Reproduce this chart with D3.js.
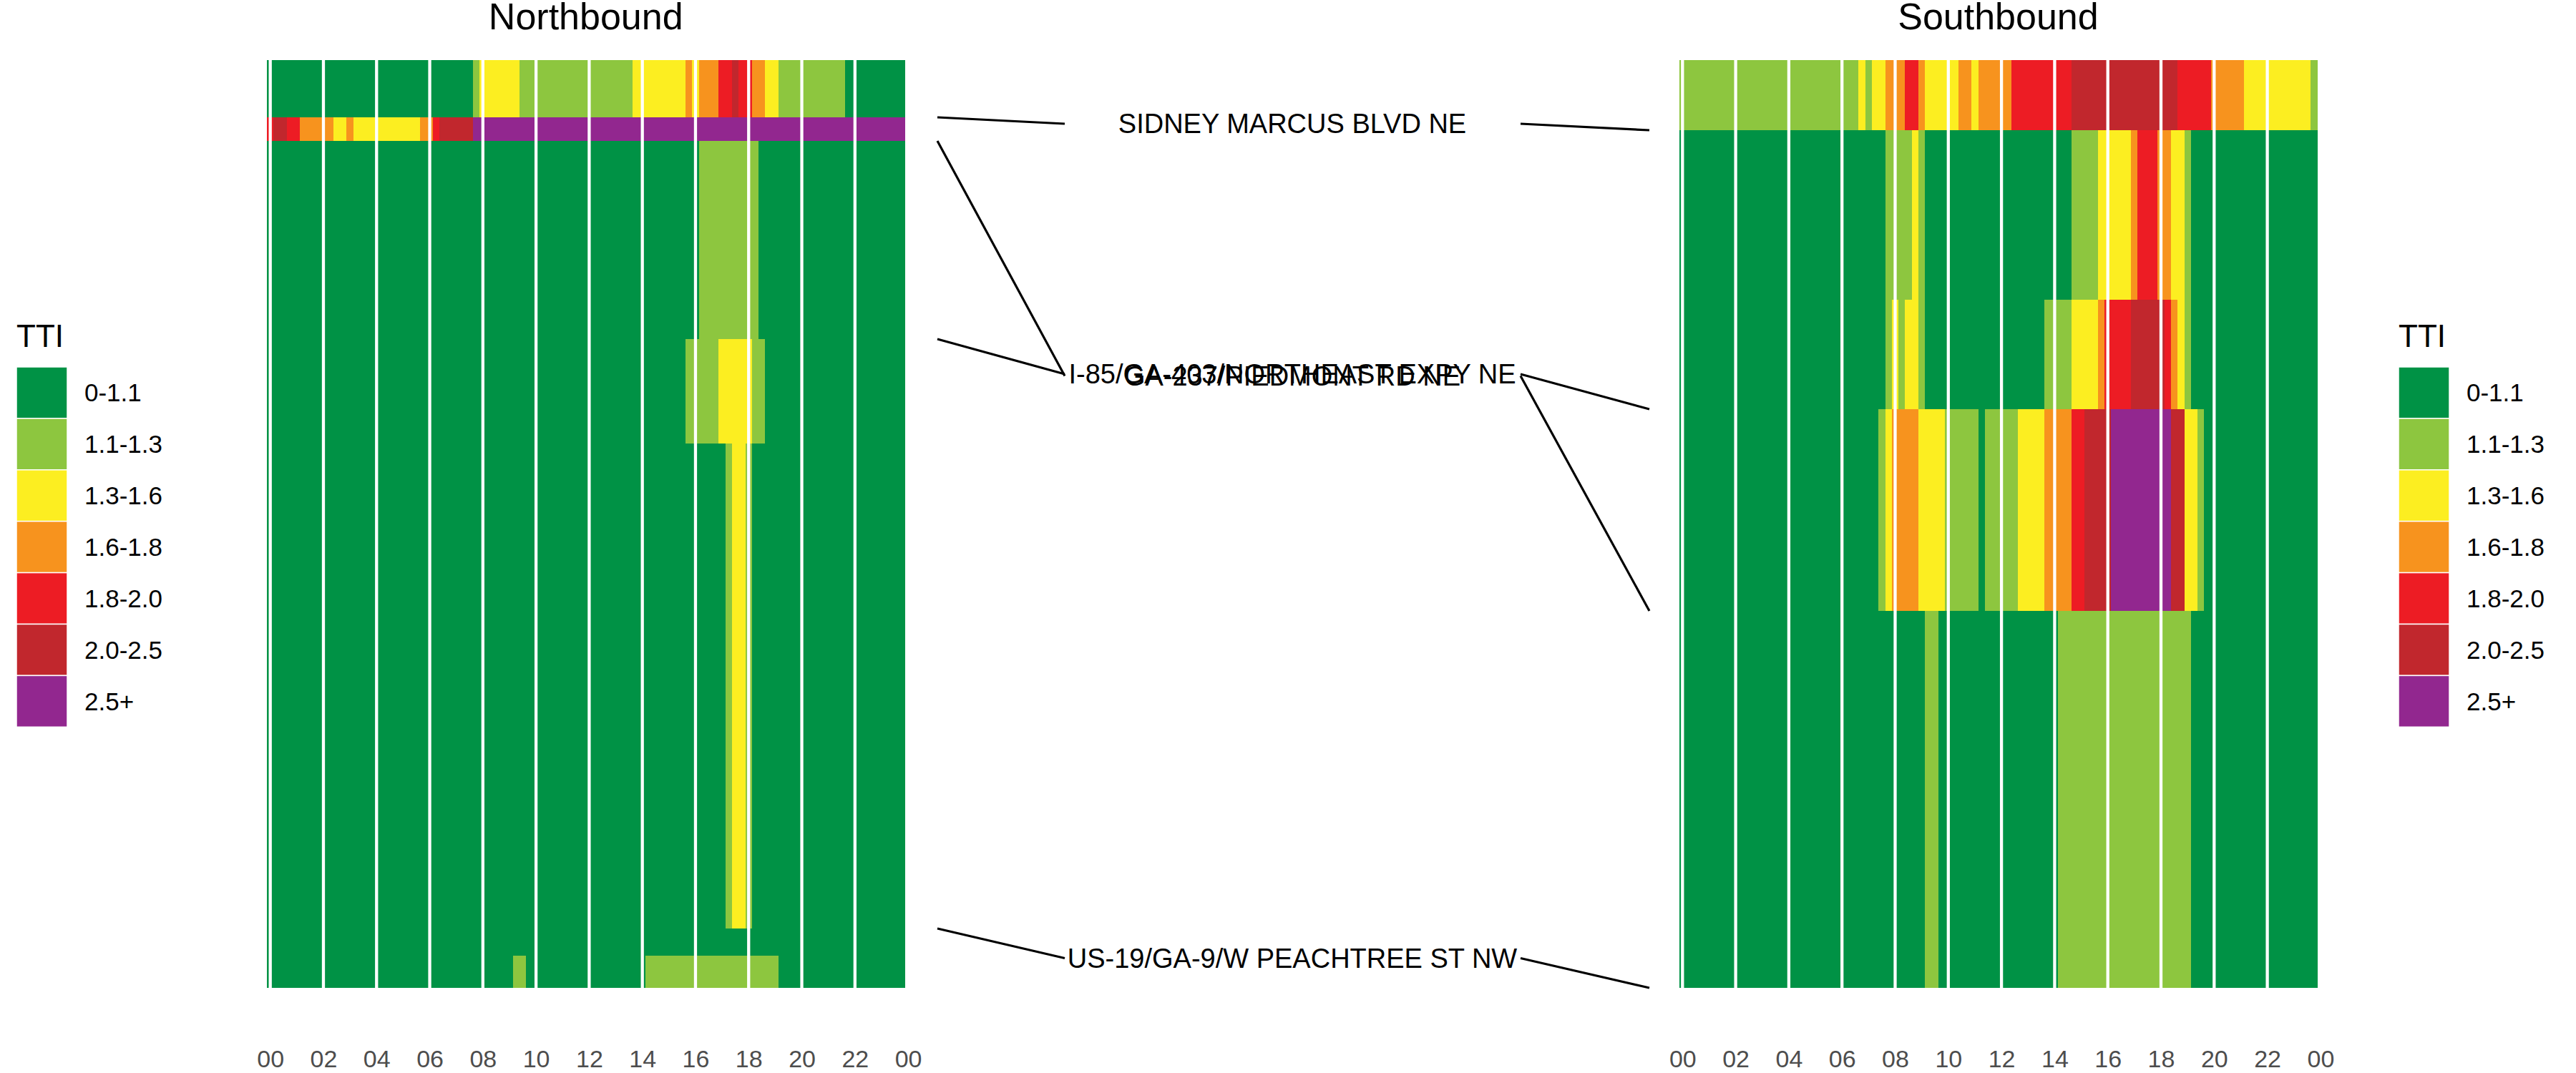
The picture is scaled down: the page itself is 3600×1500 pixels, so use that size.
<!DOCTYPE html>
<html>
<head>
<meta charset="utf-8">
<script src="https://cdn.jsdelivr.net/npm/d3@7"></script>
<style>
  html, body { margin: 0; padding: 0; background: #ffffff; }
  svg { display: block; font-family: "Liberation Sans", Arial, Helvetica, sans-serif; }
</style>
</head>
<body>
<svg id="chart" width="3600" height="1500"></svg>
<script>
// ---------------- DATA ----------------
// TTI categories and their colours
const categories = ["0-1.1", "1.1-1.3", "1.3-1.6", "1.6-1.8", "1.8-2.0", "2.0-2.5", "2.5+"];
const categoryColors = ["#009245", "#8DC63F", "#FCEE21", "#F7931E", "#ED1C24", "#C1272D", "#92278F"];

// time axis (hours), 15-minute bins
const binHours = 0.25;
const tickHours = [0, 2, 4, 6, 8, 10, 12, 14, 16, 18, 20, 22, 24];
const tickLabels = ["00", "02", "04", "06", "08", "10", "12", "14", "16", "18", "20", "22", "00"];

// segment lengths (miles) from top of panel, and TTI category per 15-min bin
// (each string: 12 groups of 8 bins = 2 hours per group)
const nbSegmentLengths = [0.160, 0.066, 0.554, 0.292, 1.356, 0.076, 0.090];
const nbRows = [
  "00000000 00000000 00000000 00000001 22222211 11111111 11111112 22222223 23334454 43322111 11111110 00000000",
  "45544333 33223222 22222223 34555556 66666666 66666666 66666666 66666666 66666666 66666666 66666666 66666666",
  "00000000 00000000 00000000 00000000 00000000 00000000 00000000 00000000 01111111 11000000 00000000 00000000",
  "00000000 00000000 00000000 00000000 00000000 00000000 00000000 00000001 11112222 21100000 00000000 00000000",
  "00000000 00000000 00000000 00000000 00000000 00000000 00000000 00000000 00000122 10000000 00000000 00000000",
  "00000000 00000000 00000000 00000000 00000000 00000000 00000000 00000000 00000000 00000000 00000000 00000000",
  "00000000 00000000 00000000 00000000 00000110 00000000 00000000 01111111 11111111 11111000 00000000 00000000"
];

const sbSegmentLengths = [0.196, 0.474, 0.306, 0.564, 1.054];
const sbRows = [
  "11111111 11111111 11111111 11121223 33443222 22332333 33444444 44455555 55555555 55544444 33333222 22222221",
  "00000000 00000000 00000000 00000001 11121000 00000000 00000000 00011112 22223444 33221000 00000000 00000000",
  "00000000 00000000 00000000 00000001 21221000 00000000 00000001 11122223 44445555 54321000 00000000 00000000",
  "00000000 00000000 00000000 00000012 33332222 11111011 11122223 33344555 56666666 66552210 00000000 00000000",
  "00000000 00000000 00000000 00000000 00000110 00000000 00000000 01111111 11111111 11111000 00000000 00000000"
];

// cross streets: label, position (miles from top) in northbound and southbound panels
const crossStreets = ["SIDNEY MARCUS BLVD NE", "GA-237/PIEDMONT RD NE", "I-85/GA-403/NORTHEAST EXPY NE", "US-19/GA-9/W PEACHTREE ST NW"];
const crossNB = [0.160, 0.226, 0.780, 2.428];
const crossSB = [0.196, 1.540, 0.976, 2.594];

const panelTitles = ["Northbound", "Southbound"];
const legendTitle = "TTI";

// ---------------- LAYOUT ----------------
const svg = d3.select("#chart");
const totalMiles = d3.sum(nbSegmentLengths);
const yTop = 84, yBottom = 1381;
const y = d3.scaleLinear().domain([0, totalMiles]).range([yTop, yBottom]);

const panels = [
  { title: panelTitles[0], lengths: nbSegmentLengths, rows: nbRows,
    x: d3.scaleLinear().domain([0, 24]).range([377.7, 1269.1]) },
  { title: panelTitles[1], lengths: sbSegmentLengths, rows: sbRows,
    x: d3.scaleLinear().domain([0, 24]).range([2351.3, 3242.9]) }
];
const color = d3.scaleOrdinal().domain(d3.range(categories.length)).range(categoryColors);

panels.forEach(p => {
  const g = svg.append("g");
  const bounds = [0, ...Array.from(d3.cumsum(p.lengths))];
  const tiles = [];
  p.rows.forEach((row, r) => {
    const codes = row.replace(/\s+/g, "").split("").map(Number);
    codes.forEach((c, k) => {
      tiles.push({ t: k * binHours, y0: bounds[r], y1: bounds[r + 1], c: c });
    });
  });
  const w = p.x(binHours) - p.x(0);
  g.selectAll("rect.tile").data(tiles).join("rect")
    .attr("class", "tile")
    .attr("x", d => p.x(d.t - binHours / 2))
    .attr("width", w + 0.3)
    .attr("y", d => y(d.y0))
    .attr("height", d => y(d.y1) - y(d.y0))
    .attr("fill", d => color(d.c))
    .attr("shape-rendering", "crispEdges");

  const panelRight = p.x(24 - binHours / 2);
  // white vertical grid lines at every 2 hours
  g.selectAll("line.grid").data(tickHours.filter(h => p.x(h) < panelRight)).join("line")
    .attr("class", "grid")
    .attr("x1", d => p.x(d)).attr("x2", d => p.x(d))
    .attr("y1", yTop).attr("y2", yBottom)
    .attr("stroke", "#ffffff").attr("stroke-width", 4.3);

  // x axis
  const axis = d3.axisBottom(p.x).tickValues(tickHours)
    .tickFormat((d, i) => tickLabels[i]).tickSize(0).tickPadding(0);
  const ax = g.append("g").attr("transform", `translate(0,${yBottom})`).call(axis);
  ax.select(".domain").remove();
  ax.selectAll("text")
    .attr("y", 87)
    .attr("dy", "0.71em")
    .attr("fill", "#4d4d4d")
    .style("font-size", "34px")
    .style("font-family", "'Liberation Sans', Arial, sans-serif");

  // title
  g.append("text")
    .attr("x", (p.x(-binHours / 2) + panelRight) / 2)
    .attr("y", 41)
    .attr("text-anchor", "middle")
    .attr("fill", "#000")
    .style("font-size", "52px")
    .text(p.title);
});

// ---------------- CROSS STREET LABELS ----------------
const nbLineX0 = 1310, nbLineX1 = 1488, sbLineX0 = 2125, sbLineX1 = 2305, labelX = 1806;
const cs = svg.append("g");
crossStreets.forEach((name, i) => {
  const yn = y(crossNB[i]), ys = y(crossSB[i]);
  const yl = (yn + ys) / 2;
  cs.append("line").attr("x1", nbLineX0).attr("y1", yn).attr("x2", nbLineX1).attr("y2", yl)
    .attr("stroke", "#000").attr("stroke-width", 3.2);
  cs.append("line").attr("x1", sbLineX0).attr("y1", yl).attr("x2", sbLineX1).attr("y2", ys)
    .attr("stroke", "#000").attr("stroke-width", 3.2);
  cs.append("text").attr("x", labelX).attr("y", yl).attr("dy", "0.35em")
    .attr("text-anchor", "middle").attr("fill", "#000")
    .style("font-size", "38px").text(name);
});

// ---------------- LEGENDS ----------------
function legend(x0) {
  const lg = svg.append("g").attr("transform", `translate(${x0},0)`);
  lg.append("text").attr("x", 0).attr("y", 485).style("font-size", "44px").attr("fill", "#000").text(legendTitle);
  const keyH = 71.9, keyW = 71, keyTop = 513;
  lg.selectAll("rect").data(categories).join("rect")
    .attr("x", 0).attr("y", (d, i) => keyTop + i * keyH)
    .attr("width", keyW).attr("height", keyH)
    .attr("fill", (d, i) => color(i))
    .attr("stroke", "#ffffff").attr("stroke-width", 1.5);
  lg.selectAll("text.lab").data(categories).join("text")
    .attr("class", "lab")
    .attr("x", 95).attr("y", (d, i) => keyTop + i * keyH + keyH / 2)
    .attr("dy", "0.35em").attr("fill", "#000")
    .style("font-size", "35px").text(d => d);
}
legend(23);
legend(3352);
</script>
</body>
</html>
